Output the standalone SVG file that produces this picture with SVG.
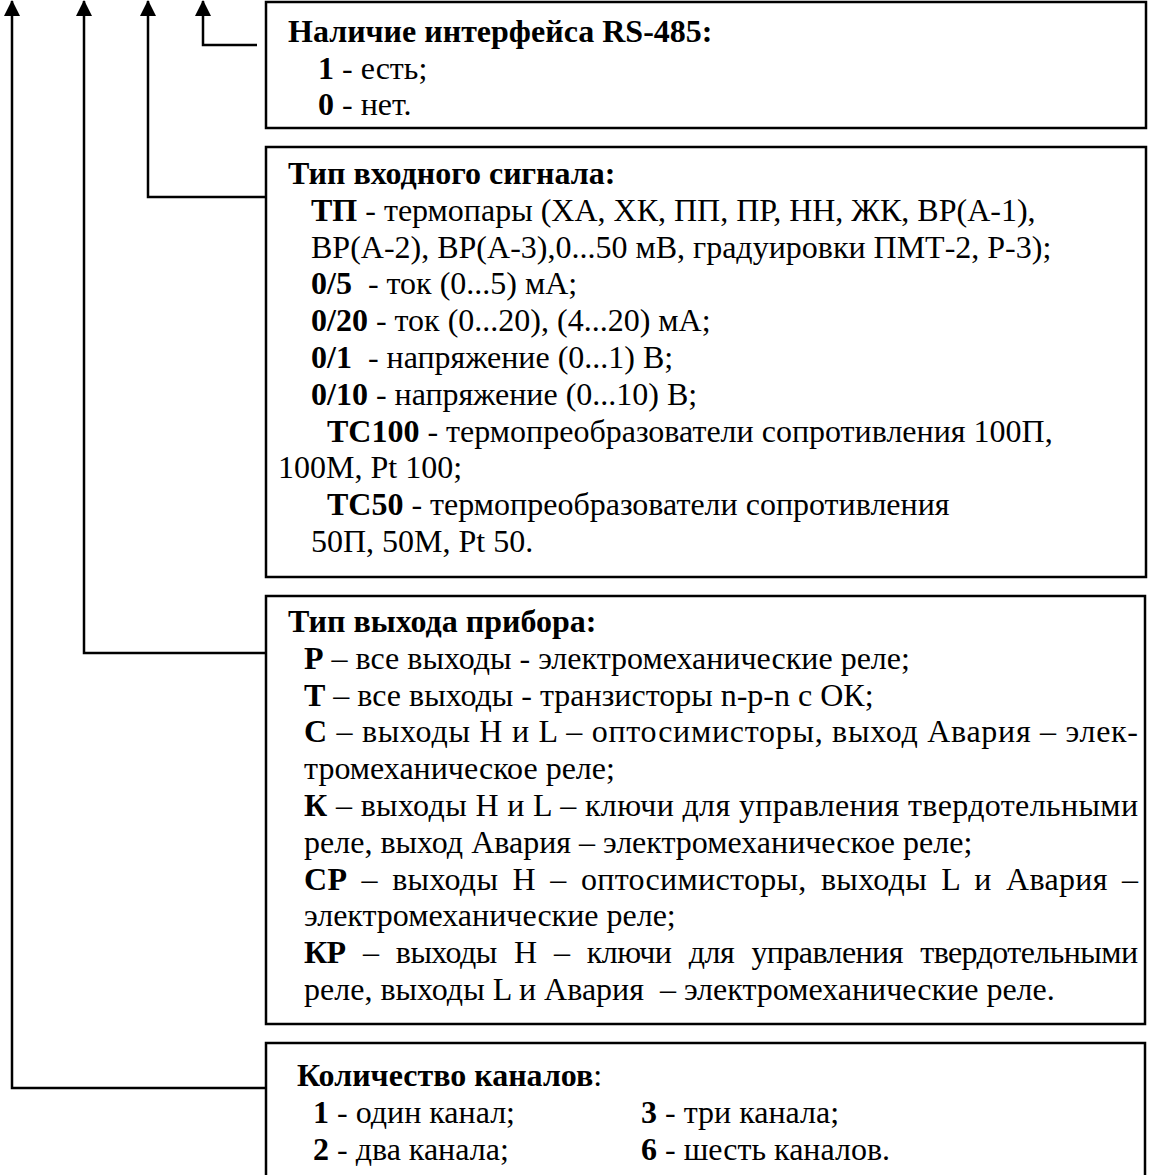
<svg xmlns="http://www.w3.org/2000/svg" width="1151" height="1175" viewBox="0 0 1151 1175">
<style>
text{font-family:"Liberation Serif","Times New Roman",serif;font-size:32px;fill:#000;white-space:pre}
.b{font-weight:bold}
.box{fill:#fff;stroke:#000;stroke-width:2.5}
.con{fill:none;stroke:#000;stroke-width:2.5}
</style>
<defs>
<marker id="arr" markerUnits="userSpaceOnUse" markerWidth="16" markerHeight="16" viewBox="0 0 16 16" refX="15" refY="8" orient="auto-start-reverse">
<path d="M0,0 L16,8 L0,16 z" fill="#000"/>
</marker>
</defs>
<rect width="1151" height="1175" fill="#fff"/>
<g id="connectors">
<path class="con" d="M203,1 V45 H257" marker-start="url(#arr)"/>
<path class="con" d="M148,1 V197 H266" marker-start="url(#arr)"/>
<path class="con" d="M84,1 V653 H266" marker-start="url(#arr)"/>
<path class="con" d="M12,1 V1088 H266" marker-start="url(#arr)"/>
</g>
<g id="node-rs485">
<rect class="box" x="266" y="2" width="880" height="126"/>
<text x="288" y="42" class="b">Наличие интерфейса RS-485:</text>
<text x="318" y="79"><tspan class="b">1</tspan> - есть;</text>
<text x="318" y="115"><tspan class="b">0</tspan> - нет.</text>
</g>
<g id="node-input">
<rect class="box" x="266" y="147" width="880" height="430"/>
<text x="288" y="184" class="b">Тип входного сигнала:</text>
<text x="311" y="221"><tspan class="b">ТП</tspan> - термопары (ХА, ХК, ПП, ПР, НН, ЖК, ВР(А-1),</text>
<text x="311" y="258">ВР(А-2), ВР(А-3),0...50 мВ, градуировки ПМТ-2, Р-3);</text>
<text x="311" y="294"><tspan class="b">0/5</tspan>  - ток (0...5) мА;</text>
<text x="311" y="331"><tspan class="b">0/20</tspan> - ток (0...20), (4...20) мА;</text>
<text x="311" y="368"><tspan class="b">0/1</tspan>  - напряжение (0...1) В;</text>
<text x="311" y="405"><tspan class="b">0/10</tspan> - напряжение (0...10) В;</text>
<text x="327" y="442"><tspan class="b">ТС100</tspan> - термопреобразователи сопротивления 100П,</text>
<text x="278" y="478">100М, Pt 100;</text>
<text x="327" y="515"><tspan class="b">ТС50</tspan> - термопреобразователи сопротивления</text>
<text x="311" y="552">50П, 50М, Pt 50.</text>
</g>
<g id="node-output">
<rect class="box" x="266" y="596" width="879" height="428"/>
<text x="288" y="632" class="b">Тип выхода прибора:</text>
<text x="304" y="669"><tspan class="b">Р</tspan> – все выходы - электромеханические реле;</text>
<text x="304" y="706"><tspan class="b">Т</tspan> – все выходы - транзисторы n-p-n с ОК;</text>
<text x="304" y="742" textLength="834" lengthAdjust="spacing"><tspan class="b">С</tspan> – выходы Н и L – оптосимисторы, выход Авария – элек-</text>
<text x="304" y="779">тромеханическое реле;</text>
<text x="304" y="816" textLength="834" lengthAdjust="spacing"><tspan class="b">К</tspan> – выходы Н и L – ключи для управления твердотельными</text>
<text x="304" y="853">реле, выход Авария – электромеханическое реле;</text>
<text x="304" y="890" word-spacing="6" textLength="834" lengthAdjust="spacing"><tspan class="b">СР</tspan> – выходы Н – оптосимисторы, выходы L и Авария –</text>
<text x="304" y="926">электромеханические реле;</text>
<text x="304" y="963" word-spacing="10" textLength="834" lengthAdjust="spacing"><tspan class="b">КР</tspan> – выходы Н – ключи для управления твердотельными</text>
<text x="304" y="1000">реле, выходы L и Авария  – электромеханические реле.</text>
</g>
<g id="node-channels">
<rect class="box" x="266" y="1043" width="879" height="150"/>
<text x="297" y="1086"><tspan class="b">Количество каналов</tspan>:</text>
<text x="313" y="1123"><tspan class="b">1</tspan> - один канал;</text>
<text x="641" y="1123"><tspan class="b">3</tspan> - три канала;</text>
<text x="313" y="1160"><tspan class="b">2</tspan> - два канала;</text>
<text x="641" y="1160"><tspan class="b">6</tspan> - шесть каналов.</text>
</g>
</svg>
